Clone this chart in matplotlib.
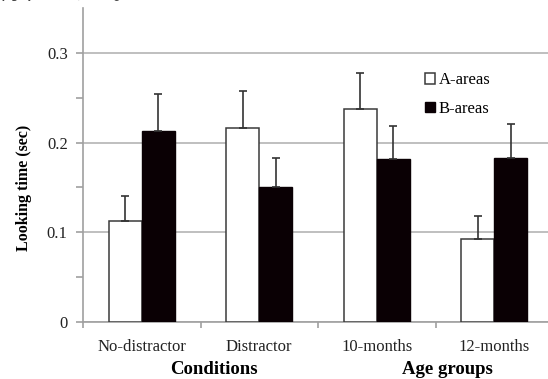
import matplotlib.pyplot as plt
import numpy as np

# valeurs
categories = ['No-distractor', 'Distractor', '10-months', '12-months']
a_areas = [0.113, 0.216, 0.237, 0.093]
a_err = [0.027, 0.041, 0.041, 0.025]
b_areas = [0.213, 0.151, 0.182, 0.183]
b_err = [0.041, 0.032, 0.036, 0.038]
groups = ['Conditions', 'Age groups']

plt.rcParams['font.family'] = ['Liberation Serif', 'Noto Sans CJK JP']

fig = plt.figure(figsize=(5.48, 3.79), dpi=100)
ax = fig.add_axes([83/548, 1 - 322/379, 470/548, 314/379])

x = np.arange(len(categories))
w = 0.28
ax.bar(x - w/2, a_areas, w, color='white', edgecolor='#3a3a3a', linewidth=1.1,
       label='A-areas', zorder=3)
ax.bar(x + w/2, b_areas, w, color='#0a0004', edgecolor='#0a0004', linewidth=1.0,
       label='B-areas', zorder=3)
ax.errorbar(x - w/2, a_areas, yerr=[np.zeros(4), a_err], fmt='none',
            ecolor='#333333', elinewidth=1.2, capsize=3, capthick=1.2, zorder=4)
ax.errorbar(x + w/2, b_areas, yerr=[np.zeros(4), b_err], fmt='none',
            ecolor='#333333', elinewidth=1.2, capsize=3, capthick=1.2, zorder=4)

ax.set_xlim(-0.5, 3.5)
ax.set_ylim(0, 0.35)

# grille et graduations façon tableur
ax.set_yticks([0.05, 0.15, 0.25], minor=True)
ax.set_yticks([0, 0.1, 0.2, 0.3])
ax.set_yticklabels(['0', '0.1', '0.2', '0.3'], fontsize=12, color='#222222')
ax.yaxis.grid(True, color='#b4b4b4', linewidth=1.2, zorder=0)
ax.set_xticks(x)
ax.set_xticklabels(categories, fontsize=12, color='#222222')
ax.set_xticks(np.arange(-0.5, 4, 1), minor=True)
ax.tick_params(axis='x', which='major', length=0, pad=12)
ax.tick_params(axis='x', which='minor', length=4, color='#a0a0a0', width=1.2)
ax.tick_params(axis='y', which='both', length=5, color='#a0a0a0', width=1.2, pad=6)

for s in ['top', 'right']:
    ax.spines[s].set_visible(False)
for s in ['left', 'bottom']:
    ax.spines[s].set_color('#a0a0a0')
    ax.spines[s].set_linewidth(1.2)

ax.set_ylabel('Looking time (sec)', fontsize=11.5, fontweight='bold')
ax.yaxis.set_label_coords(-0.108, 0.427)

ax.text(0.615, -0.125, groups[0], transform=ax.get_xaxis_transform(),
        ha='center', va='top', fontsize=13.5, fontweight='bold')
ax.text(2.6, -0.125, groups[1], transform=ax.get_xaxis_transform(),
        ha='center', va='top', fontsize=13.5, fontweight='bold')

ax.legend(loc='upper left', bbox_to_anchor=(417/548, 1 - 64/379),
          bbox_transform=fig.transFigure, frameon=False, fontsize=12,
          handlelength=0.6, handleheight=0.6, handletextpad=0.2,
          labelspacing=0.75, borderpad=0)

# texte japonais coupé en haut de l'image
fig.text(-0.01, 1 - 4/379, '満中である。', fontsize=17, va='bottom',
         family='Noto Sans CJK JP', color='#444444')

fig.savefig('out.png', dpi=100)
